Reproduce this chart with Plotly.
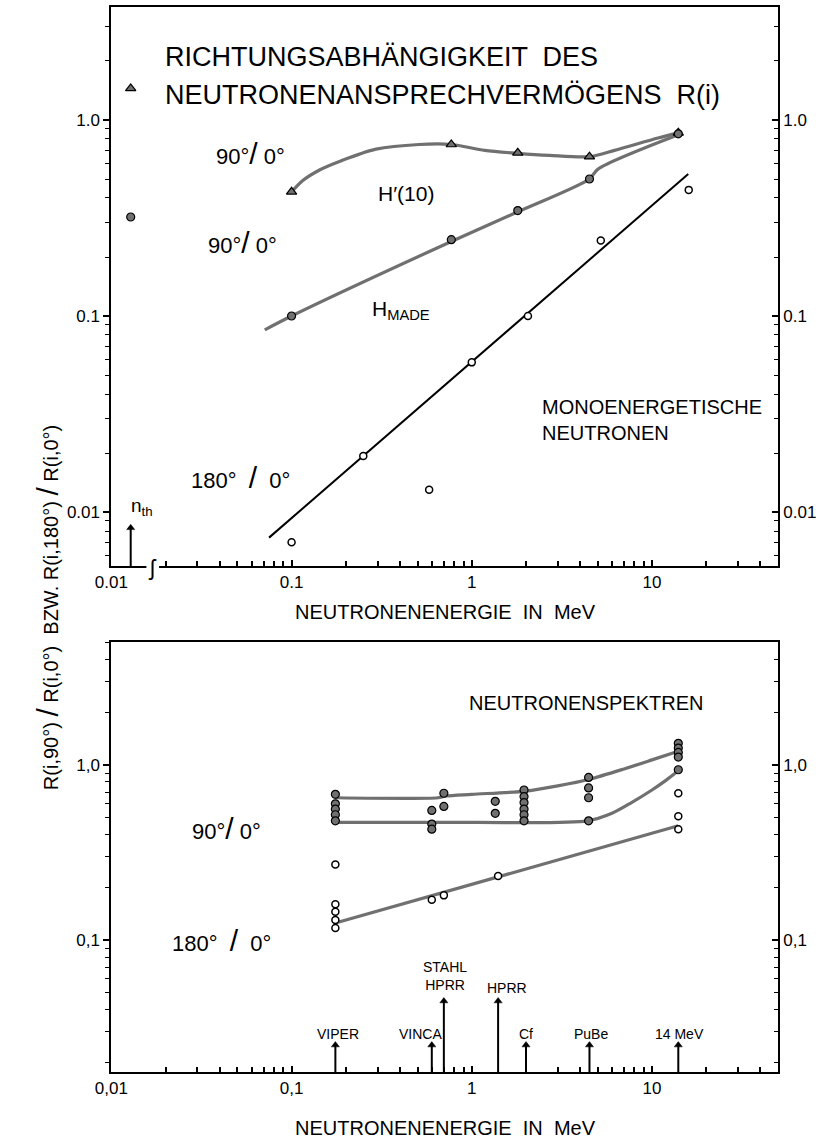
import math
import plotly.graph_objects as go

W, H = 816, 1144
FONT = "Liberation Sans Narrow, Liberation Sans, Arial, sans-serif"
GRAY = "#707070"

# ---------------- top panel data (monoenergetic neutrons) ----------------
E_tri = [0.1, 0.77, 1.8, 4.5, 14]
R_tri = [0.43, 0.75, 0.68, 0.65, 0.86]
E_tri_th = [0.0128]
R_tri_th = [1.45]
E_h10_curve = [0.1, 0.115, 0.143, 0.189, 0.294, 0.51, 0.77, 1.18, 1.8, 2.7, 4.5, 6.2, 10.8, 14]
R_h10_curve = [0.43, 0.49, 0.556, 0.62, 0.71, 0.75, 0.75, 0.70, 0.676, 0.66, 0.65, 0.70, 0.81, 0.86]

E_made = [0.1, 0.77, 1.8, 4.5, 14]
R_made = [0.10, 0.245, 0.345, 0.50, 0.85]
E_made_th = [0.0128]
R_made_th = [0.32]
E_made_curve = [0.071, 0.1, 0.77, 1.8, 4.5, 5.0, 14]
R_made_curve = [0.085, 0.10, 0.24, 0.34, 0.50, 0.56, 0.84]

E_180 = [0.1, 0.25, 0.58, 1.0, 2.05, 5.2, 16]
R_180 = [0.007, 0.0193, 0.013, 0.058, 0.10, 0.243, 0.44]
E_180_line = [0.075, 15.9]
R_180_line = [0.0074, 0.53]

E_nth = 0.0128
R_nth_head = 0.0083

# ---------------- bottom panel data (neutron spectra) ----------------
E_sp90 = [0.175] * 5 + [0.6] * 3 + [0.7] * 2 + [1.35] * 2 + [1.95] * 6 + [4.45] * 4 + [14] * 5
R_sp90 = [0.68, 0.60, 0.56, 0.52, 0.48,
          0.55, 0.46, 0.43,
          0.69, 0.58,
          0.62, 0.53,
          0.72, 0.66, 0.61, 0.56, 0.52, 0.48,
          0.85, 0.74, 0.65, 0.48,
          1.33, 1.25, 1.18, 1.11, 0.94]
E_up_curve = [0.175, 0.65, 0.72, 1.0, 2.0, 3.0, 4.5, 7.0, 10.0, 14]
R_up_curve = [0.65, 0.65, 0.665, 0.68, 0.71, 0.76, 0.83, 0.95, 1.07, 1.2]
E_lo_curve = [0.175, 1.0, 4.4, 6.0, 7.7, 10.0, 12.0, 13.5]
R_lo_curve = [0.47, 0.47, 0.48, 0.53, 0.61, 0.72, 0.82, 0.9]

E_sp180 = [0.175] * 5 + [0.6, 0.7, 1.4] + [14] * 3
R_sp180 = [0.27, 0.16, 0.145, 0.13, 0.117, 0.17, 0.18, 0.232, 0.69, 0.51, 0.43]
E_sp180_line = [0.175, 14]
R_sp180_line = [0.125, 0.45]

src_names = ["VIPER", "VINCA", "STAHL<br>HPRR", "HPRR", "Cf", "PuBe", "14 MeV"]
src_E = [0.175, 0.6, 0.7, 1.4, 2.0, 4.5, 14]
src_head = [0.0251, 0.0251, 0.0448, 0.0448, 0.0251, 0.0251, 0.0251]
src_label_E = [0.18, 0.52, 0.71, 1.56, 2.0, 4.6, 14.2]
src_label_R = [0.0290, 0.0290, 0.0620, 0.0530, 0.0290, 0.0290, 0.0290]

# axis ranges (log10)
XR = [-2.0, 1.699]
YR_TOP = [-2.2755, 0.5765]
YR_BOT = [-1.754, 0.703]
YMIN_TOP = 10 ** YR_TOP[0]
YMIN_BOT = 10 ** YR_BOT[0]

fig = go.Figure()

def line(x, y, xa, ya, color="black", width=2, shape="linear"):
    fig.add_trace(go.Scatter(x=x, y=y, xaxis=xa, yaxis=ya, mode="lines",
                             line=dict(color=color, width=width, shape=shape, smoothing=0.8),
                             showlegend=False, hoverinfo="skip"))

def pts(x, y, xa, ya, symbol="circle", fill=GRAY, size=8, lw=1.2):
    fig.add_trace(go.Scatter(x=x, y=y, xaxis=xa, yaxis=ya, mode="markers",
                             marker=dict(symbol=symbol, color=fill, size=size,
                                         line=dict(color="black", width=lw)),
                             showlegend=False, hoverinfo="skip"))

# top panel
line(E_h10_curve, R_h10_curve, "x", "y", GRAY, 3.2, "spline")
line(E_made_curve, R_made_curve, "x", "y", GRAY, 3.2, "spline")
line(E_180_line, R_180_line, "x", "y", "black", 2)
pts(E_tri + E_tri_th, R_tri + R_tri_th, "x", "y", "triangle-up", GRAY, 9)
pts(E_made + E_made_th, R_made + R_made_th, "x", "y", "circle", GRAY, 8)
pts(E_180, R_180, "x", "y", "circle", "white", 7, 1.5)
# thermal arrow
line([E_nth, E_nth], [YMIN_TOP, R_nth_head], "x", "y", "black", 2)
pts([E_nth], [R_nth_head], "x", "y", "triangle-up", "black", 7, 0.5)

# bottom panel
line(E_up_curve, R_up_curve, "x2", "y2", GRAY, 3.2, "spline")
line(E_lo_curve, R_lo_curve, "x2", "y2", GRAY, 3.2, "spline")
line(E_sp180_line, R_sp180_line, "x2", "y2", GRAY, 3.2)
pts(E_sp90, R_sp90, "x2", "y2", "circle", GRAY, 8)
pts(E_sp180, R_sp180, "x2", "y2", "circle", "white", 7, 1.5)
ax_x, ax_y = [], []
for e, h in zip(src_E, src_head):
    ax_x += [e, e, None]
    ax_y += [YMIN_BOT, h, None]
line(ax_x, ax_y, "x2", "y2", "black", 2)
pts(src_E, src_head, "x2", "y2", "triangle-up", "black", 7, 0.5)

# right-hand axes need a trace each
fig.add_trace(go.Scatter(x=[1], y=[1], xaxis="x", yaxis="y3", mode="markers",
                         marker=dict(opacity=0), showlegend=False, hoverinfo="skip"))
fig.add_trace(go.Scatter(x=[1], y=[1], xaxis="x2", yaxis="y4", mode="markers",
                         marker=dict(opacity=0), showlegend=False, hoverinfo="skip"))

def minor_vals(lo, hi):
    out = []
    d = lo
    while d < hi:
        for k in range(2, 10):
            v = k * d
            if v <= hi:
                out.append(v)
        d *= 10
    return out

xminor_top = [v for v in minor_vals(0.01, 50) if v >= 0.019]
xminor_bot = minor_vals(0.01, 50)
yminor_top = minor_vals(0.001, 4)
yminor_bot = minor_vals(0.01, 6)

XD = [97 / W, 782 / W]
YD_TOP = [1 - 566 / H, 1 - 7 / H]
YD_BOT = [1 - 1072 / H, 1 - 642 / H]

tickfont = dict(family=FONT, size=17, color="black")

def xaxis(domain, anchor, ticktext, minor):
    return dict(type="log", range=XR, domain=domain, anchor=anchor,
                showline=True, linecolor="black", linewidth=2, mirror=True,
                ticks="inside", ticklen=6, tickwidth=1.5, tickcolor="black",
                tickmode="array", tickvals=[0.01, 0.1, 1, 10], ticktext=ticktext,
                minor=dict(tickmode="array", tickvals=minor, ticks="inside", ticklen=5,
                           tickwidth=1.5, tickcolor="black", showgrid=False),
                showgrid=False, zeroline=False, tickfont=tickfont)

def yaxis(rng, domain, anchor, side, ticktext, tickvals, minor, overlay=None, ticks="outside"):
    d = dict(type="log", range=rng, domain=domain, anchor=anchor, side=side,
             showline=True, linecolor="black", linewidth=2,
             ticks=ticks, ticklen=6, tickwidth=1.5, tickcolor="black",
             tickmode="array", tickvals=tickvals, ticktext=ticktext,
             minor=dict(tickmode="array", tickvals=minor, ticks=ticks, ticklen=4,
                        tickwidth=1.2, tickcolor="black", showgrid=False),
             showgrid=False, zeroline=False, tickfont=tickfont)
    if overlay:
        d["overlaying"] = overlay
    return d

fig.update_layout(
    width=W, height=H, autosize=False,
    margin=dict(l=0, r=0, t=0, b=0),
    paper_bgcolor="white", plot_bgcolor="white",
    showlegend=False,
    xaxis=xaxis(XD, "y", ["0.01", "0.1", "1", "10"], xminor_top),
    xaxis2=xaxis(XD, "y2", ["0,01", "0,1", "1", "10"], xminor_bot),
    yaxis=yaxis(YR_TOP, YD_TOP, "x", "left", ["0.01", "0.1", "1.0"], [0.01, 0.1, 1], yminor_top),
    yaxis3=yaxis(YR_TOP, YD_TOP, "x", "right", ["0.01", "0.1", "1.0"], [0.01, 0.1, 1], yminor_top,
                 overlay="y", ticks="inside"),
    yaxis2=yaxis(YR_BOT, YD_BOT, "x2", "left", ["0,1", "1,0"], [0.1, 1], yminor_bot),
    yaxis4=yaxis(YR_BOT, YD_BOT, "x2", "right", ["0,1", "1,0"], [0.1, 1], yminor_bot,
                 overlay="y2", ticks="inside"),
)

def P(xpx, ypx):
    return xpx / W, 1 - ypx / H

annots = []

def txt(text, xpx, ypx, size=21, xanchor="center", align="center", angle=0):
    x, y = P(xpx, ypx)
    annots.append(dict(text=text, x=x, y=y, xref="paper", yref="paper", showarrow=False,
                       xanchor=xanchor, yanchor="middle", align=align, textangle=angle,
                       font=dict(family=FONT, size=size, color="black")))

SL = "<span style='font-size:30px'>/</span>"
# top panel texts
txt("RICHTUNGSABHÄNGIGKEIT  DES", 150, 57, 27, "left", "left")
txt("NEUTRONENANSPRECHVERMÖGENS  R(i)", 150, 95, 27, "left", "left")
txt("90°" + SL + " 0°", 240, 154, 22)
txt("H′(10)", 400, 193, 21)
txt("90°" + SL + " 0°", 232, 242, 22)
txt("H<sub>MADE</sub>", 395, 310, 21)
txt("180°  " + SL + "  0°", 230, 477, 22)
txt("MONOENERGETISCHE<br>NEUTRONEN", 538, 420, 20, "left", "left")
txt("n<sub>th</sub>", 128, 507, 19)
txt("NEUTRONENENERGIE  IN  MeV", 440, 612, 20)
# bottom panel texts
txt("NEUTRONENSPEKTREN", 585, 703, 20)
txt("90°" + SL + " 0°", 215, 828, 22)
txt("180°  " + SL + "  0°", 210, 940, 22)
txt("NEUTRONENENERGIE  IN  MeV", 440, 1128, 20)
txt("R(i,90°) " + SL + " R(i,0°)  BZW. R(i,180°) " + SL + " R(i,0°)", 31, 608, 20, angle=-90)

# axis break mark on top x-axis
fig.add_shape(type="rect", xref="paper", yref="paper",
              x0=133 / W, x1=146 / W, y0=1 - 570 / H, y1=1 - 562 / H,
              fillcolor="white", line=dict(width=0), layer="above")
txt("ʃ", 139, 567, 22)

# source labels (bottom) -- annotation coords on log axes are log10 values
for name, e, r in zip(src_names, src_label_E, src_label_R):
    annots.append(dict(text=name, x=math.log10(e), y=math.log10(r), xref="x2", yref="y2",
                       showarrow=False, xanchor="center", yanchor="middle",
                       font=dict(family=FONT, size=14, color="black")))

fig.update_layout(annotations=annots)
fig.write_html("out.html")
